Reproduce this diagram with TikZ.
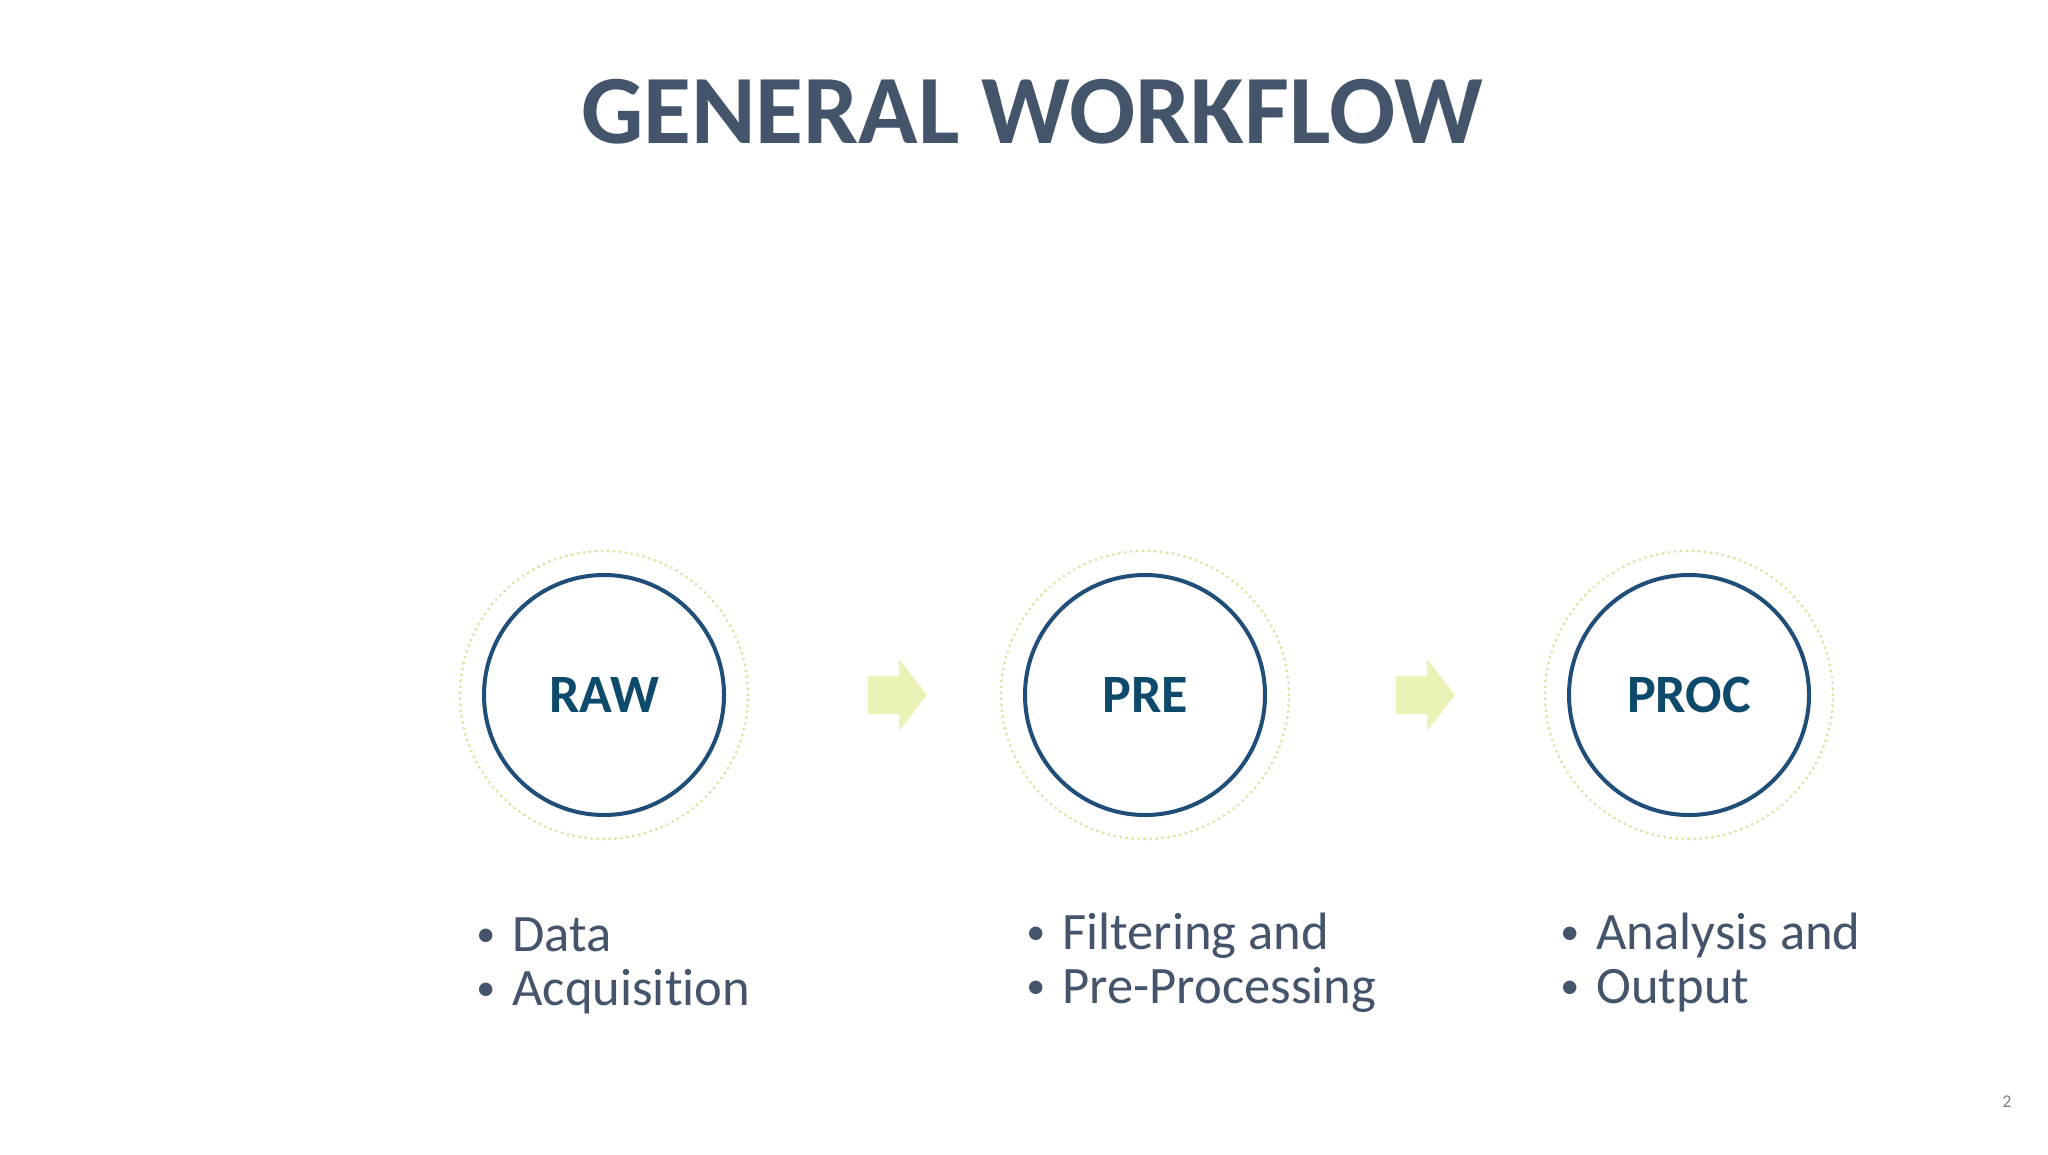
\documentclass[tikz,border=0pt]{standalone}
\usepackage{fontspec}
\setmainfont{Carlito}[Ligatures=NoCommon]
\definecolor{slate}{HTML}{44546A}
\definecolor{ringblue}{HTML}{1F4E79}
\definecolor{stagetext}{HTML}{0E4A6C}
\definecolor{paleyellow}{HTML}{ECF1B6}
\definecolor{dotyellow}{HTML}{D9E49A}
\newcommand\itm[1]{\makebox[16pt][l]{\hspace{-2pt}\raisebox{2.4pt}{\fontsize{19}{19}\selectfont •}}#1}

\begin{document}
\begin{tikzpicture}[x=0.5pt,y=-0.5pt]
	\tikzset{
	  title/.style  = {font=\fontsize{49}{52}\selectfont\bfseries, text=slate,
	                   anchor=base, inner sep=0pt},
	  stage/.style  = {circle, draw=ringblue, line width=2pt, minimum size=120pt,
	                   inner sep=0pt, text=stagetext,
	                   font=\fontsize{27}{29}\selectfont\bfseries},
	  halo/.style   = {draw=dotyellow, line width=1.4pt, line cap=round,
	                   dash pattern=on 0.2pt off 2.8pt},
	  items/.style  = {anchor=base west, align=left, inner sep=0pt, text=slate,
	                   font=\fontsize{26.3}{27}\selectfont},
	  flow/.style   = {fill=paleyellow}
	}
	\fill[white] (0,0) rectangle (2048,1155);
	\useasboundingbox (0,0) rectangle (2048,1155);

	\node[title] (head) at (1032,144) {GENERAL WORKFLOW};

	% the three stages
	\node[stage] (raw)  at (604,695)  {RAW};
	\node[stage] (pre)  at (1145,695) {PRE};
	\node[stage] (proc) at (1689,695) {PROC};
	\foreach \s in {raw,pre,proc}
	  \draw[halo] (\s) circle (72pt);

	% arrows between the stages
	\foreach \x in {868,1396}
	  \fill[flow] (\x,676) -- ++(31,0) -- ++(0,-17) -- ++(28,36)
	    -- ++(-28,36) -- ++(0,-17) -- ++(-31,0) -- cycle;

	% what each stage does
	\node[items] (rawtxt)  at (480,1005)  {\itm{Data}\\\itm{Acquisition}};
	\node[items] (pretxt)  at (1030,1003) {\itm{Filtering and}\\\itm{Pre-Processing}};
	\node[items] (proctxt) at (1564,1003) {\itm{Analysis and}\\\itm{Output}};

	\node[font=\fontsize{9}{10}\selectfont, text=gray] (page) at (2007,1102) {2};
\end{tikzpicture}
\end{document}
